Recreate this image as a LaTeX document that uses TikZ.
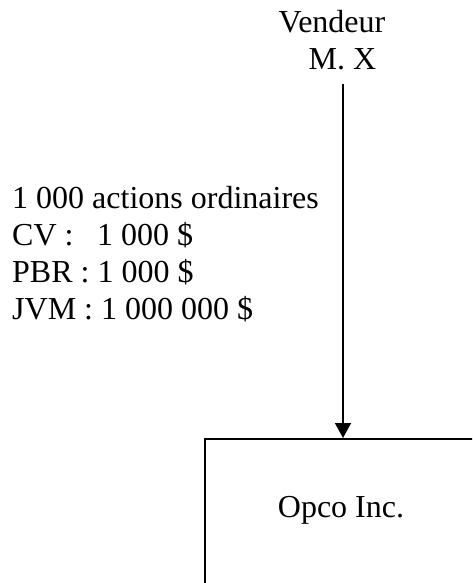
\documentclass[tikz,border=0pt]{standalone}
\usepackage{fontspec}
\setmainfont{Liberation Serif}
\usetikzlibrary{arrows.meta}
\tikzset{
  txt/.style={inner sep=0pt, anchor=base, font=\fontsize{32}{37}\selectfont},
  ltxt/.style={inner sep=0pt, anchor=base west, font=\fontsize{32}{37}\selectfont},
  boxstyle/.style={draw, line width=1.5pt, minimum width=276pt, minimum height=200pt, anchor=north, inner sep=0pt},
  flow/.style={line width=1.5pt, -{Triangle[length=15pt,width=16pt]}}
}
\begin{document}
\begin{tikzpicture}[x=1pt,y=-1pt]
\clip (0,0) rectangle (472,583);
\useasboundingbox (0,0) rectangle (472,583);
\node[txt] (v) at (332,33) {Vendeur};
\node[txt] (m) at (342.5,70) {M. X};
\node[ltxt] (l1) at (12,208) {1 000 actions ordinaires};
\node[ltxt] (l2) at (12,245) {\makebox[85pt][l]{CV :}1 000 \$};
\node[ltxt] (l3) at (12,282) {PBR : 1 000 \$};
\node[ltxt] (l4) at (12,319) {JVM : 1 000 000 \$};
\node[boxstyle] (o) at (343,438) {};
\node[txt] (ot) at (341,517) {Opco Inc.};
\coordinate (start) at (343,84);
\draw[flow] (start) -- (o.north);
\end{tikzpicture}
\end{document}
